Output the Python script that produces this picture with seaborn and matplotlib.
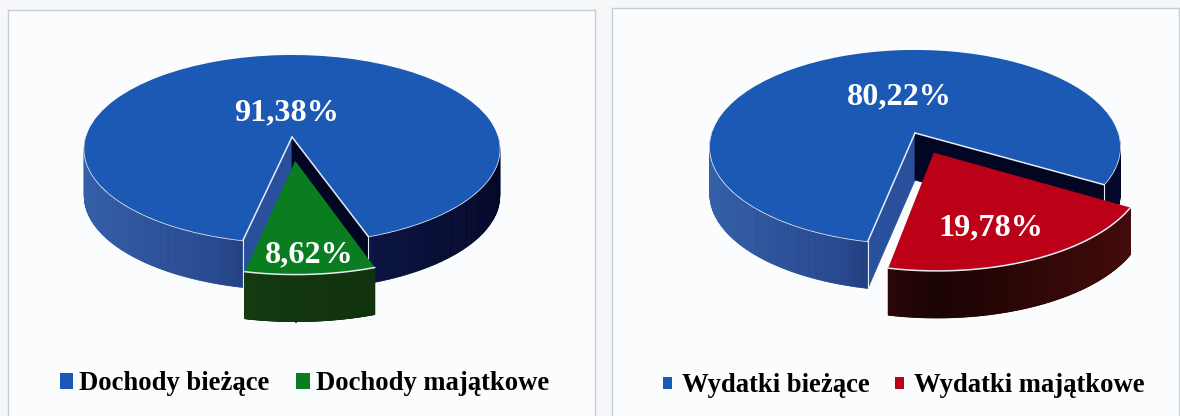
import numpy as np
import matplotlib
matplotlib.use("Agg")
import matplotlib.pyplot as plt
import matplotlib.patches as mpatches
from matplotlib.colors import LinearSegmentedColormap
from matplotlib.transforms import Transform
import seaborn as sns

labels_dochody = ["Dochody bieżące", "Dochody majątkowe"]
values_dochody = [91.38, 8.62]
labels_wydatki = ["Wydatki bieżące", "Wydatki majątkowe"]
values_wydatki = [80.22, 19.78]

kolory_dochody = ["#1c59b4", "#0a7d20"]
kolory_wydatki = ["#1c59b4", "#bb0018"]

sciana_niebieska = ["#3560aa", "#28498f", "#0b1442", "#040828"]
sciana_zielona = ["#1f4d1c", "#12360f", "#0c2a0a"]
sciana_czerwona = ["#5e1212", "#1c0404", "#4a0c0c"]

sns.set_theme(style="white")
plt.rcParams["font.family"] = ["Liberation Serif", "DejaVu Serif"]
plt.rcParams["font.weight"] = "bold"


class Perspektywa(Transform):
    # rzut kola na ekran, tyl mniejszy niz przod (jak wykres 3D w Excelu)
    input_dims = 2
    output_dims = 2

    def __init__(self, cx, cy, rx, a, k):
        super().__init__()
        self.cx, self.cy, self.rx, self.a, self.k = cx, cy, rx, a, k

    def transform_non_affine(self, values):
        values = np.asarray(values)
        d = 1 + self.k * values[:, 1]
        return np.column_stack((self.cx + self.rx * values[:, 0] / d,
                                self.cy - self.a * values[:, 1] / d))


def punkt(w, t):
    return (w.center[0] + w.r * np.cos(np.radians(t)),
            w.center[1] + w.r * np.sin(np.radians(t)))


def sciana_luk(ax, w, persp, h, cmap, z, linia):
    # sciana boczna z paskow, tylko przednia czesc luku
    katy = np.linspace(w.theta1, w.theta2, 400)
    katy = katy[np.sin(np.radians(katy)) <= 0.02]
    pts = persp.transform(np.array([punkt(w, t) for t in katy]))
    for i in range(len(katy) - 1):
        c = cmap((np.cos(np.radians(katy[i])) + 1) / 2)
        ax.fill([pts[i, 0], pts[i + 1, 0], pts[i + 1, 0], pts[i, 0]],
                [pts[i, 1], pts[i + 1, 1], pts[i + 1, 1] + h, pts[i, 1] + h],
                color=c, lw=0.6, zorder=z)
    # jasna krawedz gornej sciany, rysowana nad wycinkiem
    ax.plot(pts[:, 0], pts[:, 1], color=linia, lw=1.1, zorder=z + 1.5)


def sciana_ciecie(ax, w, t, persp, h, kolor, z, linia):
    pts = persp.transform(np.array([w.center, punkt(w, t)]))
    ax.fill([pts[0, 0], pts[1, 0], pts[1, 0], pts[0, 0]],
            [pts[0, 1], pts[1, 1], pts[1, 1] + h, pts[0, 1] + h],
            color=kolor, lw=0.6, zorder=z)
    ax.plot(pts[:, 0], pts[:, 1], color=linia, lw=1.1, zorder=3.5)
    ax.plot([pts[1, 0], pts[1, 0]], [pts[1, 1], pts[1, 1] + h], color=linia, lw=0.8, zorder=3.5)


def rysuj(ax, box, values, labels, kolory, sciana, start, wysun, geom, h, poz, leg_poz, kw_leg):
    wedges, _ = ax.pie(values, colors=kolory, startangle=start, explode=[0, wysun],
                       wedgeprops={"linewidth": 0})
    ax.set_aspect("auto")
    ax.set_xlim(box[0], box[1])
    ax.set_ylim(416, box[2])
    ax.set_frame_on(True)
    ax.set_facecolor("#fbfcfd")
    sns.despine(ax=ax, top=False, right=False, left=False, bottom=True)
    for s in ax.spines.values():
        s.set_color("#c9ccd1")
        s.set_linewidth(1.0)

    persp = Perspektywa(*geom)
    duzy, maly = wedges
    cm_duzy = LinearSegmentedColormap.from_list("a", sciana_niebieska)
    cm_maly = LinearSegmentedColormap.from_list("b", sciana)

    sciana_luk(ax, duzy, persp, h, cm_duzy, 1, "#e6ebf2")
    sciana_ciecie(ax, duzy, duzy.theta2, persp, h, "#29509c", 2, "#e6ebf2")
    sciana_ciecie(ax, duzy, duzy.theta1, persp, h, "#030622", 2, "#e6ebf2")
    duzy.set_transform(persp + ax.transData)
    duzy.set_zorder(3)
    sciana_luk(ax, maly, persp, h, cm_maly, 4, "#e6ebf2")
    maly.set_transform(persp + ax.transData)
    maly.set_zorder(5)

    for v, (x, y) in zip(values, poz):
        ax.text(x, y, f"{v:.2f}%".replace(".", ","), color="white", fontsize=23.2,
                ha="center", va="center", zorder=7)

    uchwyty = [mpatches.Patch(facecolor=c, edgecolor="none") for c in kolory]
    leg = ax.legend(uchwyty, labels, ncol=2, frameon=False, loc="center",
                    bbox_to_anchor=leg_poz, bbox_transform=ax.transData,
                    prop={"size": 19.2, "weight": "bold"}, **kw_leg)
    for t in leg.get_texts():
        t.set_color("black")


fig = plt.figure(figsize=(11.8, 4.16), dpi=100, facecolor="#f6f7f9")


def osie(box):
    return fig.add_axes([box[0] / 1180, 0, (box[1] - box[0]) / 1180, (416 - box[2]) / 416])


box_l = (8, 595, 10)
box_p = (612, 1179, 8)

rysuj(osie(box_l), box_l, values_dochody, labels_dochody, kolory_dochody, sciana_zielona,
      289, 0.25, (292, 137, 206, 92.5, 0.128), 47,
      [(287, 113), (309, 255)], (304.5, 384),
      {"handlelength": 0.5, "handleheight": 0.5, "handletextpad": 0.22, "columnspacing": 1.0})
rysuj(osie(box_p), box_p, values_wydatki, labels_wydatki, kolory_wydatki, sciana_czerwona,
      -30.3, 0.22, (915, 133, 203, 95, 0.144), 47,
      [(899, 97), (991, 228)], (904, 386),
      {"handlelength": 0.33, "handleheight": 0.33, "handletextpad": 0.37, "columnspacing": 0.95})

fig.savefig("out.png", dpi=100, facecolor=fig.get_facecolor())
